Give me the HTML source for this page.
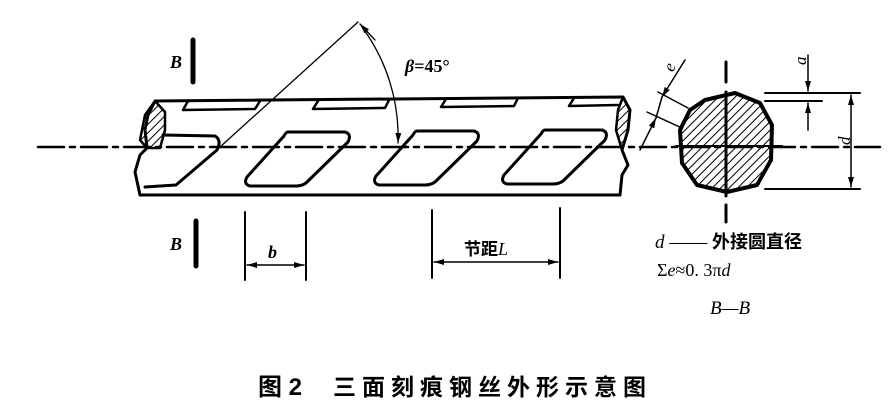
<!DOCTYPE html>
<html><head><meta charset="utf-8"><style>
html,body{margin:0;padding:0;background:#fff;width:889px;height:420px;overflow:hidden}
svg{display:block}
text{font-family:"Liberation Serif","Noto Serif CJK SC",serif;fill:#000}
.cj{font-family:"Liberation Sans","Noto Sans CJK SC",sans-serif;font-weight:bold}
</style></head><body>
<svg width="889" height="420" viewBox="0 0 889 420" xmlns="http://www.w3.org/2000/svg">
<defs>
<pattern id="h" width="6" height="6" patternUnits="userSpaceOnUse" patternTransform="rotate(45)">
<line x1="0" y1="0" x2="0" y2="6" stroke="#000" stroke-width="2"/></pattern>
<marker id="ar" markerWidth="10" markerHeight="6" refX="10" refY="3" orient="auto" markerUnits="userSpaceOnUse"><path d="M0,0L10,3L0,6z" fill="#000"/></marker>
</defs>
<g stroke="#000" fill="none" stroke-linecap="round" stroke-linejoin="round">
<path d="M155,101 L623,97 L630,110 L628,130 L622,150 L628,165 L622,175 L620,195 L140,195 L135,172 L140,155 L147,148 L145,130 L148,115 Z" stroke-width="3"/>
<path d="M155,101 L165,112 L165,130 L160,148 L147,148 L140,140 L145,115 Z" fill="url(#h)" stroke-width="2.5"/>
<path d="M623,97 L630,110 L628,130 L622,150 L616,130 L618,110 Z" fill="url(#h)" stroke-width="2.5"/>
<path d="M188,101 L183,110 L255,109 L260,101" stroke-width="2.5"/>
<path d="M318,101 L313,109 L385,108 L389,100" stroke-width="2.5"/>
<path d="M446,99 L441,107 L514,106 L518,98" stroke-width="2.5"/>
<path d="M574,98 L569,106 L618,105" stroke-width="2.5"/>
<path d="M163,135 L215,136 Q222,140 217,150 L176,185 L145,187" stroke-width="3"/>
<g stroke-width="3">
<path d="M288,132 L345,132 Q352,134 348,142 L306,183 Q302,186 296,186 L250,186 Q243,184 247,177 L284,136 Q286,132 288,132Z"/>
<path d="M288,132 L345,132 Q352,134 348,142 L306,183 Q302,186 296,186 L250,186 Q243,184 247,177 L284,136 Q286,132 288,132Z" transform="translate(129,-1)"/>
<path d="M288,132 L345,132 Q352,134 348,142 L306,183 Q302,186 296,186 L250,186 Q243,184 247,177 L284,136 Q286,132 288,132Z" transform="translate(257,-2)"/>
</g>
<path d="M38,147 L880,147" stroke-width="2.5" stroke-dasharray="26,6,5,6"/>
<path d="M220,147 L358,22" stroke-width="1.3"/>
<path d="M362,27 A185,185 0 0 1 398,143" stroke-width="1.3" marker-end="url(#ar)"/>
<path d="M375,40 L360,24" stroke-width="1.3" marker-end="url(#ar)"/>
<path d="M193,40 L193,82" stroke-width="5"/>
<path d="M196,221 L196,266" stroke-width="5"/>
<path d="M245,212 L245,280 M306,212 L306,280" stroke-width="2"/>
<path d="M275,265 L247,265" stroke-width="1.5" marker-end="url(#ar)"/>
<path d="M275,265 L304,265" stroke-width="1.5" marker-end="url(#ar)"/>
<path d="M432,210 L432,278 M560,208 L560,278" stroke-width="2"/>
<path d="M496,262 L434,262" stroke-width="1.5" marker-end="url(#ar)"/>
<path d="M496,262 L558,262" stroke-width="1.5" marker-end="url(#ar)"/>
<path d="M705,100 L735,93 L760,103 L772,125 L771,160 L757,185 L727,192 L697,185 L682,163 L680,130 L690,110 Z" fill="url(#h)" stroke-width="4"/>
<path d="M726,62 L726,82 M726,92 L726,196 M726,205 L726,222" stroke-width="3"/>
<path d="M676,146 L782,146" stroke-width="2"/>
<path d="M688,108 L658,92 M682,128 L647,112" stroke-width="1.5"/>
<path d="M685,60 L662,97" stroke-width="1.5" marker-end="url(#ar)"/>
<path d="M640,150 L656,118" stroke-width="1.5" marker-end="url(#ar)"/>
<path d="M662,97 L656,118" stroke-width="1.5"/>
<path d="M765,93 L860,93 M765,189 L860,189 M765,101 L822,101" stroke-width="2"/>
<path d="M851,141 L851,95" stroke-width="1.5" marker-end="url(#ar)"/>
<path d="M851,141 L851,187" stroke-width="1.5" marker-end="url(#ar)"/>
<path d="M808,55 L808,91" stroke-width="1.5" marker-end="url(#ar)"/>
<path d="M808,130 L808,103" stroke-width="1.5" marker-end="url(#ar)"/>
</g>
<text x="170" y="68" font-size="18" font-style="italic" font-weight="bold">B</text>
<text x="170" y="250" font-size="18" font-style="italic" font-weight="bold">B</text>
<text x="405" y="72" font-size="18" font-weight="bold"><tspan font-style="italic">β</tspan>=45°</text>
<text x="268" y="258" font-size="18" font-style="italic" font-weight="bold">b</text>
<text x="464" y="255" font-size="18"><tspan class="cj" font-size="17" font-weight="normal">节距</tspan><tspan font-style="italic">L</tspan></text>
<text x="666" y="72" font-size="17" font-style="italic" transform="rotate(-70 670 67)">e</text>
<text x="797" y="64" font-size="17" font-style="italic" transform="rotate(-90 802 60)">a</text>
<text x="840" y="145" font-size="17" font-style="italic" transform="rotate(-90 845 140)">d</text>
<text x="655" y="248" font-size="19"><tspan font-style="italic">d</tspan> —— <tspan class="cj" font-size="18" font-weight="normal">外接圆直径</tspan></text>
<text x="657" y="276" font-size="18">Σ<tspan font-style="italic">e</tspan>≈0. 3π<tspan font-style="italic">d</tspan></text>
<text x="710" y="314" font-size="19" font-style="italic">B—B</text>
<text class="cj" x="258" y="395" font-size="24" font-weight="normal">图 2</text>
<text class="cj" x="333" y="395" font-size="23" font-weight="normal" letter-spacing="6">三面刻痕钢丝外形示意图</text>
</svg>
</body></html>
